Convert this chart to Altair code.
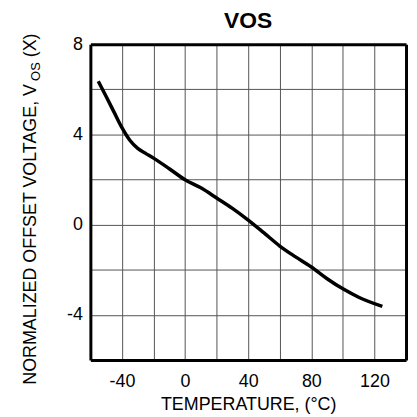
import altair as alt
import pandas as pd

# ---- data ----
temps = [-55, -50, -45, -40, -35, -30, -25, -20, -10, 0, 10, 20, 30, 40, 50, 60, 70, 80, 90, 100, 110, 125]
vos = [6.36, 5.68, 4.99, 4.30, 3.74, 3.38, 3.16, 2.95, 2.48, 1.99, 1.63, 1.18, 0.72, 0.20, -0.37,
       -0.95, -1.43, -1.88, -2.40, -2.85, -3.22, -3.63]

x_grid = list(range(-60, 141, 20))
y_grid = list(range(-6, 9, 2))

chart_title = "VOS"
x_title = "TEMPERATURE, (°C)"
y_title_main = "NORMALIZED OFFSET VOLTAGE, V"
y_title_sub = "OS"
y_title_end = "(X)"

FONT = "Liberation Sans"
W, H = 318, 318

df = pd.DataFrame({"temp": temps, "vos": vos})

x_scale = alt.Scale(domain=[-60, 140], nice=False, zero=False)
y_scale = alt.Scale(domain=[-6, 8], nice=False, zero=False)

x_axis = alt.Axis(
    values=x_grid, grid=True, ticks=False, domain=True, domainColor="black", domainWidth=3,
    labelExpr="datum.value % 40 == 0 ? '' + datum.value : ''",
    labelFont=FONT, labelFontSize=18, labelColor="black", labelPadding=13,
    labelOverlap=False, labelFlush=False,
    title=x_title, titleFont=FONT, titleFontSize=18, titleFontWeight="normal",
    titleColor="black", titleX=159, titleY=50, titleBaseline="alphabetic", titleAlign="center",
    gridColor="#555", gridWidth=1,
    gridOpacity={"condition": {"test": "datum.value == -60 || datum.value == 140", "value": 0}, "value": 1},
)
y_axis = alt.Axis(
    values=y_grid, grid=True, ticks=False, domain=True, domainColor="black", domainWidth=3,
    labelExpr="datum.value % 4 == 0 ? '' + datum.value : ''",
    labelFont=FONT, labelFontSize=18, labelColor="black", labelPadding=8,
    labelOverlap=False, labelFlush=False,
    title=None,
    gridColor="#555", gridWidth=1,
    gridOpacity={"condition": {"test": "datum.value == -6 || datum.value == 8", "value": 0}, "value": 1},
)

line = alt.Chart(df).mark_line(color="black", strokeWidth=3.5, interpolate="monotone").encode(
    x=alt.X("temp:Q", scale=x_scale, axis=x_axis),
    y=alt.Y("vos:Q", scale=y_scale, axis=y_axis),
)

# top and right frame edges as plain axis domains
frame = alt.Chart(df).mark_line(opacity=0).encode(
    x=alt.X("temp:Q", scale=x_scale,
            axis=alt.Axis(orient="top", labels=False, ticks=False, grid=False, title=None,
                          domain=True, domainColor="black", domainWidth=3)),
    y=alt.Y("vos:Q", scale=y_scale,
            axis=alt.Axis(orient="right", labels=False, ticks=False, grid=False, title=None,
                          domain=True, domainColor="black", domainWidth=3)),
)

def label_text(txt, size, xpos, ypos, angle=0, align="left", weight="normal"):
    return alt.Chart(pd.DataFrame({"t": [txt]})).mark_text(
        angle=angle, align=align, baseline="alphabetic", font=FONT, fontSize=size,
        fontWeight=weight, color="black"
    ).encode(text="t:N", x=alt.value(xpos), y=alt.value(ypos))

t1 = label_text(y_title_main, 18, -55, 343, angle=270)
t2 = label_text(y_title_sub, 13, -51, 36.9, angle=270)
t3 = label_text(y_title_end, 18, -55, 13.1, angle=270)
ttl = label_text(chart_title, 23, W / 2, -16, align="center", weight="bold")

chart = alt.layer(line, frame, t1, t2, t3, ttl).resolve_axis(
    x="independent", y="independent"
).properties(
    width=W, height=H,
    padding={"left": 83, "top": 35, "right": 3, "bottom": 54},
    autosize=alt.AutoSizeParams(type="none"),
    view=alt.ViewBackground(stroke=None),
)

chart.save("out.html", embed_options={"renderer": "svg", "actions": False})
